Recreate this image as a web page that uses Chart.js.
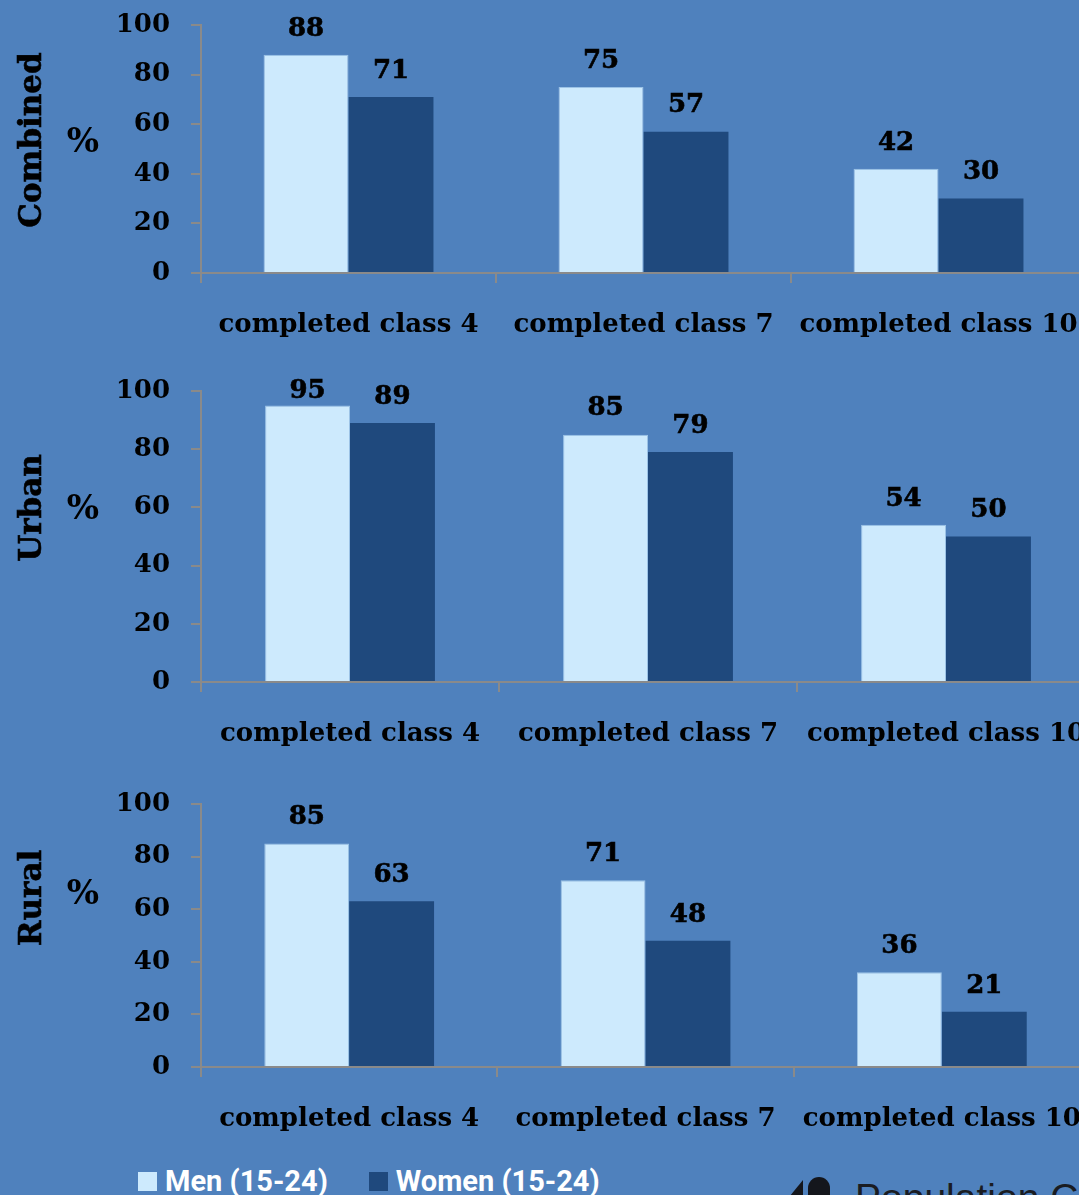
<!DOCTYPE html>
<html>
<head>
<meta charset="utf-8">
<script src="https://cdn.jsdelivr.net/npm/chart.js@4.4.1/dist/chart.umd.min.js"></script>
<style>
  html, body { margin: 0; padding: 0; }
  body { width: 1079px; height: 1195px; overflow: hidden; background: #4f81bd; position: relative; }
  canvas { position: absolute; left: 0; }
  .legend { position: absolute; top: 1164px; left: 138px; display: flex; align-items: center;
            font: bold 29px Roboto, "Open Sans", sans-serif; color: #fff; white-space: nowrap; }
  .legend span.sw { display: inline-block; width: 19px; height: 19px; margin-right: 8px; }
  .legend .item { display: flex; align-items: center; margin-right: 41px; }
  .brand { position: absolute; left: 855px; top: 1178px; font: 39px/39px "Liberation Sans", Arial, sans-serif;
           color: #1a1c22; white-space: nowrap; }
  .mark1 { position: absolute; left: 785px; top: 1180px; width: 0; height: 0;
           border-left: 18px solid transparent; border-bottom: 22px solid #14161c; }
  .mark2 { position: absolute; left: 808px; top: 1177px; width: 22px; height: 30px;
           background: #14161c; border-radius: 11px 11px 0 0; }
</style>
</head>
<body>
<canvas id="combined" width="1088" height="350" style="top:0px"></canvas>
<canvas id="urban" width="1097" height="400" style="top:360px"></canvas>
<canvas id="rural" width="1092" height="370" style="top:770px"></canvas>

<div class="legend">
  <div class="item"><span class="sw" style="background:#cdeafd"></span>Men (15-24)</div>
  <div class="item"><span class="sw" style="background:#1f497d"></span>Women (15-24)</div>
</div>
<div class="mark1"></div><div class="mark2"></div>
<div class="brand">Population Council</div>

<script>
// Education completion by sex, ages 15-24 (%)
const categories = ['completed class 4', 'completed class 7', 'completed class 10'];
const seriesNames = ['Men (15-24)', 'Women (15-24)'];

const combinedMen   = [88, 75, 42];
const combinedWomen = [71, 57, 30];
const urbanMen      = [95, 85, 54];
const urbanWomen    = [89, 79, 50];
const ruralMen      = [85, 71, 36];
const ruralWomen    = [63, 48, 21];

const yTickValues = [0, 20, 40, 60, 80, 100];

const MEN_COLOR = '#cdeafd';
const WOMEN_COLOR = '#1f497d';
const AXIS_COLOR = '#8a8a8a';
const SERIF = '"DejaVu Serif", "Liberation Serif", serif';

// Draws value labels above bars plus the rotated panel name and the "%" unit
const panelText = {
  id: 'panelText',
  afterDatasetsDraw(chart, args, opts) {
    const ctx = chart.ctx;
    const area = chart.chartArea;
    ctx.save();
    ctx.fillStyle = '#000';
    ctx.strokeStyle = '#000';
    ctx.lineWidth = 0.6;
    ctx.font = 'bold 26px ' + SERIF;
    ctx.textAlign = 'center';
    ctx.textBaseline = 'middle';
    chart.data.datasets.forEach((ds, i) => {
      chart.getDatasetMeta(i).data.forEach((bar, j) => {
        const y = Math.max(bar.y - 26, area.top);
        ctx.fillText(String(ds.data[j]), bar.x, y);
        ctx.strokeText(String(ds.data[j]), bar.x, y);
      });
    });

    ctx.font = 'bold 34px ' + SERIF;
    ctx.fillText('%', 83, opts.unitY);

    ctx.font = 'bold 31px ' + SERIF;
    ctx.translate(33, opts.titleY);
    ctx.rotate(-Math.PI / 2);
    ctx.fillText(opts.title, 0, 0);
    ctx.strokeText(opts.title, 0, 0);
    ctx.restore();
  }
};

function makePanel(id, title, men, women, opts) {
  const ctx = document.getElementById(id);
  return new Chart(ctx, {
    type: 'bar',
    data: {
      labels: categories,
      datasets: [
        { label: seriesNames[0], data: men, backgroundColor: MEN_COLOR,
          borderColor: '#9cc3e6', borderWidth: 1 },
        { label: seriesNames[1], data: women, backgroundColor: WOMEN_COLOR,
          borderWidth: 0 }
      ]
    },
    options: {
      responsive: false,
      animation: false,
      devicePixelRatio: 1,
      layout: { padding: { top: opts.padTop, right: 2, left: 0, bottom: 0 } },
      datasets: { bar: { categoryPercentage: opts.catPct, barPercentage: 1 } },
      plugins: {
        legend: { display: false },
        tooltip: { enabled: false },
        panelText: { title: title, titleY: opts.titleY, unitY: opts.unitY }
      },
      scales: {
        x: {
          grid: { offset: true, drawOnChartArea: false, drawTicks: true, tickLength: 10,
                  color: AXIS_COLOR, lineWidth: 2 },
          border: { display: true, color: AXIS_COLOR, width: 2 },
          ticks: { color: '#000', font: { family: SERIF, size: 26, weight: 'bold' },
                   padding: 27, maxRotation: 0, autoSkip: false },
          afterFit(scale) {
            scale.height = opts.xHeight;
            scale.paddingLeft = 0; scale.paddingRight = 0;
          }
        },
        y: {
          min: 0, max: 100,
          afterBuildTicks(scale) { scale.ticks = yTickValues.map(v => ({ value: v })); },
          grid: { drawOnChartArea: false, drawTicks: true, tickLength: 10,
                  color: AXIS_COLOR, lineWidth: 2 },
          border: { display: true, color: AXIS_COLOR, width: 2 },
          ticks: { color: '#000', font: { family: SERIF, size: 26, weight: 'bold' },
                   padding: 21 },
          afterFit(scale) {
            scale.width = 201;
            scale.paddingTop = 0; scale.paddingBottom = 0;
          }
        }
      }
    },
    plugins: [panelText]
  });
}

makePanel('combined', 'Combined', combinedMen, combinedWomen,
  { padTop: 25, xHeight: 77, catPct: 0.576, titleY: 140, unitY: 143 });
makePanel('urban', 'Urban', urbanMen, urbanWomen,
  { padTop: 31, xHeight: 78, catPct: 0.570, titleY: 148, unitY: 150 });
makePanel('rural', 'Rural', ruralMen, ruralWomen,
  { padTop: 34, xHeight: 73, catPct: 0.573, titleY: 128, unitY: 125 });
</script>
</body>
</html>
